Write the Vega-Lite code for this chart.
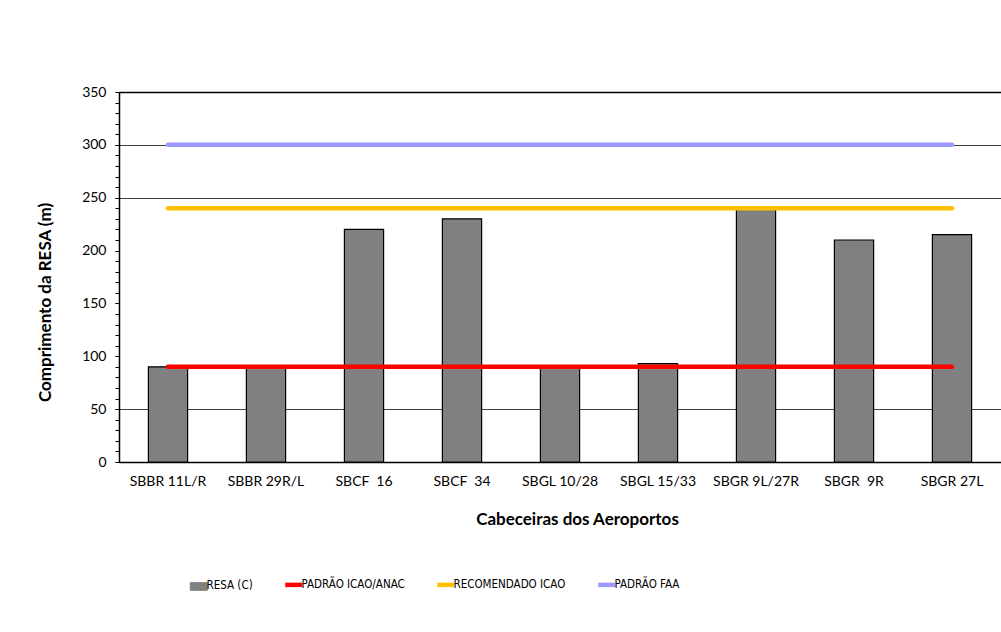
{
  "$schema": "https://vega.github.io/schema/vega-lite/v6.json",
  "width": 882,
  "height": 370,
  "autosize": {"type": "none"},
  "padding": {"left": 119, "top": 92, "right": 0, "bottom": 170},
  "background": "white",
  "config": {
    "font": "Lato",
    "view": {"stroke": "#808080", "strokeWidth": 1}
  },
  "data": {
    "values": [
      {"cabeceira": "SBBR 11L/R", "resa": 90, "PADRÃO ICAO/ANAC": 90, "RECOMENDADO ICAO": 240, "PADRÃO FAA": 300},
      {"cabeceira": "SBBR 29R/L", "resa": 90, "PADRÃO ICAO/ANAC": 90, "RECOMENDADO ICAO": 240, "PADRÃO FAA": 300},
      {"cabeceira": "SBCF\u00a0 16", "resa": 220, "PADRÃO ICAO/ANAC": 90, "RECOMENDADO ICAO": 240, "PADRÃO FAA": 300},
      {"cabeceira": "SBCF\u00a0 34", "resa": 230, "PADRÃO ICAO/ANAC": 90, "RECOMENDADO ICAO": 240, "PADRÃO FAA": 300},
      {"cabeceira": "SBGL 10/28", "resa": 90, "PADRÃO ICAO/ANAC": 90, "RECOMENDADO ICAO": 240, "PADRÃO FAA": 300},
      {"cabeceira": "SBGL 15/33", "resa": 93, "PADRÃO ICAO/ANAC": 90, "RECOMENDADO ICAO": 240, "PADRÃO FAA": 300},
      {"cabeceira": "SBGR 9L/27R", "resa": 240, "PADRÃO ICAO/ANAC": 90, "RECOMENDADO ICAO": 240, "PADRÃO FAA": 300},
      {"cabeceira": "SBGR\u00a0 9R", "resa": 210, "PADRÃO ICAO/ANAC": 90, "RECOMENDADO ICAO": 240, "PADRÃO FAA": 300},
      {"cabeceira": "SBGR 27L", "resa": 215, "PADRÃO ICAO/ANAC": 90, "RECOMENDADO ICAO": 240, "PADRÃO FAA": 300}
    ]
  },
  "resolve": {"axis": {"x": "independent", "y": "independent"}},
  "layer": [
    {
      "mark": {"type": "bar", "stroke": "#000000", "strokeWidth": 1.2},
      "encoding": {
        "x": {
          "field": "cabeceira",
          "type": "nominal",
          "sort": null,
          "scale": {"paddingInner": 0.6, "paddingOuter": 0.3},
          "axis": {
            "orient": "bottom",
            "labelAngle": 0,
            "ticks": false,
            "labelPadding": 12,
            "labelFontSize": 14,
            "labelColor": "#000000",
            "domainColor": "#000000",
            "domainWidth": 1.5,
            "title": "Cabeceiras dos Aeroportos",
            "titleFontSize": 17,
            "titleFontWeight": "bold",
            "titleColor": "#000000",
            "titlePadding": 23,
            "titleX": 458
          }
        },
        "y": {
          "field": "resa",
          "type": "quantitative",
          "scale": {"domain": [0, 350], "nice": false},
          "axis": {
            "orient": "left",
            "values": [0, 50, 100, 150, 200, 250, 300, 350],
            "tickSize": 4,
            "tickColor": "#000000",
            "domainColor": "#000000",
            "domainWidth": 1.5,
            "labelFontSize": 14,
            "labelColor": "#000000",
            "labelPadding": 9,
            "title": "Comprimento da RESA (m)",
            "titleFontSize": 17,
            "titleFontWeight": "bold",
            "titleColor": "#000000",
            "titlePadding": 27,
            "titleY": 210,
            "grid": true,
            "gridColor": "#404040",
            "gridOpacity": {
              "condition": {"test": "datum.value === 50 || datum.value === 250 || datum.value === 300", "value": 1},
              "value": 0
            }
          }
        },
        "color": {
          "datum": "RESA (C)",
          "scale": {
            "domain": ["RESA (C)", "PADRÃO ICAO/ANAC", "RECOMENDADO ICAO", "PADRÃO FAA"],
            "range": ["#808080", "#ff0000", "#ffc000", "#9999ff"]
          },
          "legend": {
            "orient": "none",
            "legendX": 74,
            "legendY": 487,
            "direction": "horizontal",
            "columns": 4,
            "title": null,
            "columnPadding": 23,
            "labelFont": "Liberation Sans Narrow, DejaVu Sans Condensed, Lato",
            "labelFontSize": 11.5,
            "labelColor": "#000000",
            "labelOffset": 2,
            "symbolSize": 289,
            "encode": {
              "symbols": {
                "update": {
                  "shape": {"signal": "datum.value === 'RESA (C)' ? 'M-1,-0.45H1V0.45H-1Z' : 'stroke'"},
                  "fill": {"signal": "datum.value === 'RESA (C)' ? '#808080' : 'transparent'"},
                  "stroke": {"signal": "datum.value === 'RESA (C)' ? '#000000' : scale('color', datum.value)"},
                  "strokeWidth": {"signal": "datum.value === 'RESA (C)' ? 1 : 4.5"},
                  "opacity": {"value": 1}
                }
              }
            }
          }
        }
      }
    },
    {
      "transform": [
        {"fold": ["PADRÃO ICAO/ANAC", "RECOMENDADO ICAO", "PADRÃO FAA"], "as": ["serie", "valor"]}
      ],
      "mark": {"type": "line", "strokeWidth": 4.5, "strokeCap": "round"},
      "encoding": {
        "x": {
          "field": "cabeceira",
          "type": "nominal",
          "sort": null,
          "axis": {
            "orient": "top",
            "labels": false,
            "ticks": false,
            "grid": false,
            "title": null,
            "domainColor": "#000000",
            "domainWidth": 1.5
          }
        },
        "y": {
          "field": "valor",
          "type": "quantitative",
          "axis": {
            "orient": "left",
            "values": [0, 10, 20, 30, 40, 50, 60, 70, 80, 90, 100, 110, 120, 130, 140, 150, 160, 170, 180, 190, 200, 210, 220, 230, 240, 250, 260, 270, 280, 290, 300, 310, 320, 330, 340, 350],
            "labels": false,
            "domain": false,
            "grid": false,
            "title": null,
            "tickSize": 4,
            "tickColor": "#000000"
          }
        },
        "color": {
          "field": "serie",
          "type": "nominal",
          "legend": {
            "orient": "none",
            "legendX": 74,
            "legendY": 487,
            "direction": "horizontal",
            "columns": 4,
            "title": null,
            "columnPadding": 23,
            "labelFont": "Liberation Sans Narrow, DejaVu Sans Condensed, Lato",
            "labelFontSize": 11.5,
            "labelColor": "#000000",
            "labelOffset": 2,
            "symbolSize": 289,
            "encode": {
              "symbols": {
                "update": {
                  "shape": {"signal": "datum.value === 'RESA (C)' ? 'M-1,-0.45H1V0.45H-1Z' : 'stroke'"},
                  "fill": {"signal": "datum.value === 'RESA (C)' ? '#808080' : 'transparent'"},
                  "stroke": {"signal": "datum.value === 'RESA (C)' ? '#000000' : scale('color', datum.value)"},
                  "strokeWidth": {"signal": "datum.value === 'RESA (C)' ? 1 : 4.5"},
                  "opacity": {"value": 1}
                }
              }
            }
          }
        }
      }
    }
  ]
}
